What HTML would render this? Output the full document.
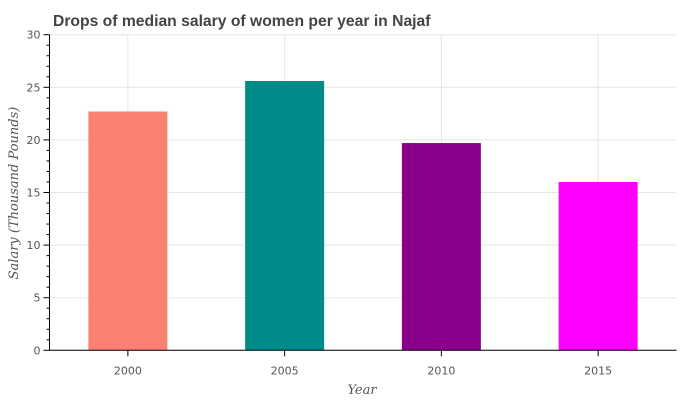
<!DOCTYPE html>
<html><head><meta charset="utf-8"><style>
body{margin:0;background:#fff;}
svg text{font-family:"DejaVu Sans","Liberation Sans",sans-serif;}
</style></head><body>
<svg width="680" height="400" xmlns="http://www.w3.org/2000/svg">
<text x="53" y="26" font-size="15.7" font-weight="bold" fill="#444" style="font-family:'Liberation Sans',sans-serif">Drops of median salary of women per year in Najaf</text>
<g id="grid"></g><g id="bars"></g><g id="axes"></g>
<text x="362" y="394" font-size="13" font-style="italic" fill="#555" text-anchor="middle" style="font-family:'DejaVu Serif','Liberation Serif',serif">Year</text>
<text transform="translate(18,193) rotate(-90)" font-size="13" font-style="italic" fill="#555" text-anchor="middle" style="font-family:'DejaVu Serif','Liberation Serif',serif">Salary (Thousand Pounds)</text>
</svg>
<script>
const categories=["2000","2005","2010","2015"];
const values=[22.7,25.6,19.7,16.0];
const colors=["#fa8072","#008b8b","#8b008b","#ff00ff"];
const yTicks=[0,5,10,15,20,25,30];
const NS="http://www.w3.org/2000/svg";
const L=49.5,R=676.5,T=34.7,B=350.3,YMAX=30;
const y=v=>B-(v/YMAX)*(B-T);
const step=(R-L)/categories.length;
const x=i=>L+step*(i+0.5);
function mk(tag,attrs,parent){const e=document.createElementNS(NS,tag);for(const k in attrs)e.setAttribute(k,attrs[k]);parent.appendChild(e);return e;}
const grid=document.getElementById('grid'),bars=document.getElementById('bars'),axes=document.getElementById('axes');
yTicks.forEach(t=>{const l=mk('line',{x1:L,x2:R,y1:y(t),y2:y(t),stroke:'#e5e5e5'},grid);

});
categories.forEach((c,i)=>{const l=mk('line',{x1:x(i),x2:x(i),y1:T,y2:B,stroke:'#e5e5e5'},grid);

});
const bw=79;
values.forEach((v,i)=>{const r=mk('rect',{x:x(i)-bw/2,y:y(v),width:bw,height:B-y(v),fill:colors[i]},bars);


const t=mk('text',{x:x(i),y:B+24,'font-size':11,fill:'#555','text-anchor':'middle'},axes);t.textContent=categories[i];


mk('line',{x1:x(i),x2:x(i),y1:B,y2:B+6,stroke:'#000'},axes);});
for(let v=0;v<=YMAX;v++){mk('line',{x1:L-(v%5===0?6:3),x2:L,y1:y(v),y2:y(v),stroke:'#000'},axes);}
yTicks.forEach(t=>{const e=mk('text',{x:L-9,y:y(t)+4,'font-size':11,fill:'#555','text-anchor':'end'},axes);e.textContent=t;

});
const ya=mk('line',{x1:L,x2:L,y1:T,y2:B,stroke:'#000'},axes);


const xa=mk('line',{x1:L,x2:R,y1:B,y2:B,stroke:'#000'},axes);


</script>
</body></html>
